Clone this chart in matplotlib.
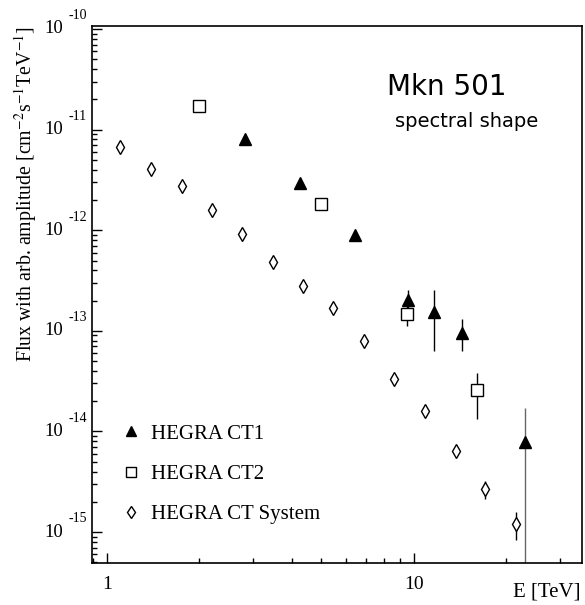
import numpy as np
import matplotlib
matplotlib.use("Agg")
import matplotlib.pyplot as plt
from matplotlib.ticker import LogLocator, FuncFormatter, NullFormatter

plt.rcParams['font.family'] = ['Liberation Serif', 'DejaVu Serif']
plt.rcParams['mathtext.fontset'] = 'stix'

# HEGRA CT System (diamonds)
sys_e = [1.10, 1.39, 1.75, 2.20, 2.75, 3.47, 4.35, 5.46, 6.87, 8.64, 10.9, 13.7, 17.1, 21.5]
sys_f = [6.7e-12, 4.06e-12, 2.73e-12, 1.60e-12, 9.25e-13, 4.85e-13, 2.76e-13, 1.67e-13,
         7.94e-14, 3.30e-14, 1.585e-14, 6.36e-15, 2.67e-15, 1.20e-15]
sys_lo = [np.nan] * 12 + [2.12e-15, 8.3e-16]
sys_hi = [np.nan] * 12 + [3.23e-15, 1.58e-15]

# HEGRA CT1 (filled triangles)
ct1_e = [2.82, 4.24, 6.44, 9.54, 11.6, 14.3, 23.1]
ct1_f = [8.1e-12, 2.95e-12, 9.0e-13, 2.03e-13, 1.53e-13, 9.6e-14, 7.8e-15]
ct1_lo = [np.nan, np.nan, np.nan, 1.6e-13, 6.3e-14, 6.3e-14, 1e-17]
ct1_hi = [np.nan, np.nan, np.nan, 2.53e-13, 2.52e-13, 1.30e-13, 1.73e-14]

# HEGRA CT2 (open squares)
ct2_e = [2.0, 5.0, 9.5, 16.1]
ct2_f = [1.70e-11, 1.84e-12, 1.48e-13, 2.56e-14]
ct2_lo = [np.nan, np.nan, 1.11e-13, 1.32e-14]
ct2_hi = [np.nan, np.nan, 1.96e-13, 3.84e-14]

y_decades = [-15, -14, -13, -12, -11, -10]
x_ticks = [1, 10]

fig = plt.figure(figsize=(5.85, 6.05), dpi=100)
ax = fig.add_axes([0.1573, 0.0694, 0.8376, 0.8876])
ax.set_xscale('log')
ax.set_yscale('log')
ax.set_xlim(0.894, 35.3)
ax.set_ylim(4.93e-16, 1.07e-10)


def errs(ax, e, lo, hi, color='black'):
    e = np.array(e)
    lo = np.array(lo)
    hi = np.array(hi)
    m = ~np.isnan(lo)
    ax.vlines(e[m], lo[m], hi[m], colors=color, lw=1.0, zorder=2)


errs(ax, sys_e, sys_lo, sys_hi)
errs(ax, ct1_e[:-1], ct1_lo[:-1], ct1_hi[:-1])
# last CT1 point: error reaches zero, drawn grey in the original
errs(ax, ct1_e[-1:], ct1_lo[-1:], ct1_hi[-1:], color='#666666')
errs(ax, ct2_e, ct2_lo, ct2_hi)

ax.plot(ct1_e, ct1_f, ls='none', marker='^', ms=8, mfc='black', mec='black',
        label='HEGRA CT1', zorder=4)
ax.plot(ct2_e, ct2_f, ls='none', marker='s', ms=9, mfc='white', mec='black', mew=1.0,
        label='HEGRA CT2', zorder=3)
ax.plot(sys_e, sys_f, ls='none', marker='d', ms=7.5, mfc='white', mec='black', mew=1.0,
        label='HEGRA CT System', zorder=3)

# ticks
ax.tick_params(which='both', direction='in', top=False, right=False, width=1)
ax.tick_params(which='major', length=7.5, pad=9, labelsize=14)
ax.tick_params(which='minor', length=3.7)
ax.xaxis.set_minor_locator(LogLocator(base=10, subs=np.arange(2, 10)))
ax.set_xticks(x_ticks)
ax.xaxis.set_major_formatter(FuncFormatter(lambda v, p: f'{v:g}'))
ax.xaxis.set_minor_formatter(NullFormatter())
ax.yaxis.set_major_locator(LogLocator(base=10, numticks=20))
ax.yaxis.set_minor_locator(LogLocator(base=10, subs=np.arange(2, 10), numticks=20))
ax.yaxis.set_major_formatter(NullFormatter())
ax.yaxis.set_minor_formatter(NullFormatter())
for s in ax.spines.values():
    s.set_linewidth(1.2)

# y tick labels in "10 ^-n" style
for d in y_decades:
    ax.annotate('10', xy=(0, 10.0 ** d), xycoords=('axes fraction', 'data'),
                xytext=(-21, 0), textcoords='offset points', ha='right', va='center',
                fontsize=13.5)
    ax.annotate(str(d), xy=(0, 10.0 ** d), xycoords=('axes fraction', 'data'),
                xytext=(-17, 9.5), textcoords='offset points', ha='left', va='center',
                fontsize=10)

ax.set_ylabel(r'Flux with arb. amplitude [cm$^{-2}$s$^{-1}$TeV$^{-1}$]', fontsize=14.3,
              loc='top')
ax.yaxis.set_label_coords(-0.108, 1.0)
ax.text(0.996, -0.054, 'E [TeV]', transform=ax.transAxes, ha='right', va='center',
        fontsize=15)

ax.text(0.724, 0.887, 'Mkn 501', transform=ax.transAxes, ha='center', va='center',
        fontsize=20, family='DejaVu Sans')
ax.text(0.765, 0.822, 'spectral shape', transform=ax.transAxes, ha='center', va='center',
        fontsize=14, family='DejaVu Sans')

ax.legend(loc='upper left', bbox_to_anchor=(0.061, 0.259), frameon=False, fontsize=15,
          handlelength=0.9, handletextpad=0.5, labelspacing=1.0, borderpad=0,
          borderaxespad=0, markerscale=0.85)

fig.savefig('out.png', dpi=100)
